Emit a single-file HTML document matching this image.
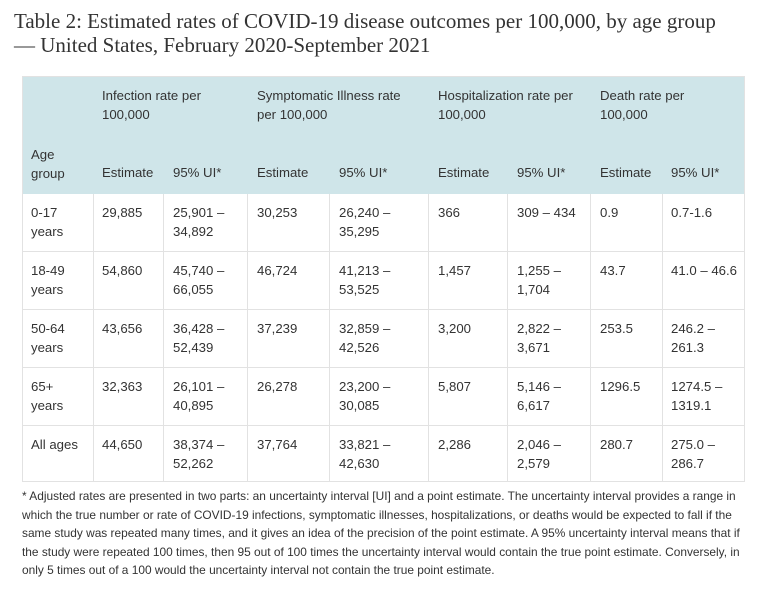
<!DOCTYPE html>
<html><head><style>
body{margin:0;width:768px;height:591px;background:#fff;font-family:"Liberation Sans",sans-serif;color:#333;overflow:hidden;position:relative}
.t{position:absolute;left:14px;top:9px;font-family:"Liberation Serif",serif;font-size:21px;line-height:24px;color:#333}
.tb{position:absolute;left:22px;top:76px;width:723px;height:406px;border:1px solid #e2e2e2;box-sizing:border-box}
.hd{position:absolute;left:0;top:0;width:100%;height:117px;background:#cfe5e9}
.vl{position:absolute;top:117px;bottom:0;width:1px;background:#e2e2e2}
.hl{position:absolute;left:0;right:0;height:1px;background:#e2e2e2}
.c{position:absolute;font-size:13.2px;line-height:19px;white-space:nowrap}
.f{position:absolute;left:22px;top:487px;font-size:11.9px;line-height:18.5px;color:#333;white-space:nowrap}
</style></head><body>
<div class="t">Table 2: Estimated rates of COVID-19 disease outcomes per 100,000, by age group<br>— United States, February 2020-September 2021</div>
<div class="tb">
<div class="hd"></div>
<div class="vl" style="left:70px"></div><div class="vl" style="left:140px"></div><div class="vl" style="left:224px"></div><div class="vl" style="left:306px"></div><div class="vl" style="left:405px"></div><div class="vl" style="left:484px"></div><div class="vl" style="left:567px"></div><div class="vl" style="left:639px"></div>
<div class="hl" style="top:174px"></div><div class="hl" style="top:232px"></div><div class="hl" style="top:290px"></div><div class="hl" style="top:348px"></div>
</div>
<div id="cells"></div>
<script>
var cols=[31,102,173,257,339,438,517,600,671];
var H=[[102,"Infection rate per<br>100,000",86],[257,"Symptomatic Illness rate<br>per 100,000",86],[438,"Hospitalization rate per<br>100,000",86],[600,"Death rate per<br>100,000",86],[31,"Age<br>group",145]];
var sub=["Estimate","95% UI*","Estimate","95% UI*","Estimate","95% UI*","Estimate","95% UI*"];
var rows=[["0-17<br>years","29,885","25,901 –<br>34,892","30,253","26,240 –<br>35,295","366","309 – 434","0.9","0.7-1.6"],
["18-49<br>years","54,860","45,740 –<br>66,055","46,724","41,213 –<br>53,525","1,457","1,255 –<br>1,704","43.7","41.0 – 46.6"],
["50-64<br>years","43,656","36,428 –<br>52,439","37,239","32,859 –<br>42,526","3,200","2,822 –<br>3,671","253.5","246.2 –<br>261.3"],
["65+<br>years","32,363","26,101 –<br>40,895","26,278","23,200 –<br>30,085","5,807","5,146 –<br>6,617","1296.5","1274.5 –<br>1319.1"],
["All ages","44,650","38,374 –<br>52,262","37,764","33,821 –<br>42,630","2,286","2,046 –<br>2,579","280.7","275.0 –<br>286.7"]];
var h="";
H.forEach(function(a){h+='<div class="c" style="left:'+a[0]+'px;top:'+a[2]+'px">'+a[1]+'</div>'});
sub.forEach(function(s,i){h+='<div class="c" style="left:'+cols[i+1]+'px;top:163px">'+s+'</div>'});
rows.forEach(function(r,j){r.forEach(function(s,i){h+='<div class="c" style="left:'+cols[i]+'px;top:'+(203+j*58)+'px">'+s+'</div>'})});
document.getElementById("cells").innerHTML=h;
</script>
<div class="f">* Adjusted rates are presented in two parts: an uncertainty interval [UI] and a point estimate. The uncertainty interval provides a range in<br>which the true number or rate of COVID-19 infections, symptomatic illnesses, hospitalizations, or deaths would be expected to fall if the<br>same study was repeated many times, and it gives an idea of the precision of the point estimate. A 95% uncertainty interval means that if<br>the study were repeated 100 times, then 95 out of 100 times the uncertainty interval would contain the true point estimate. Conversely, in<br>only 5 times out of a 100 would the uncertainty interval not contain the true point estimate.</div>
</body></html>
